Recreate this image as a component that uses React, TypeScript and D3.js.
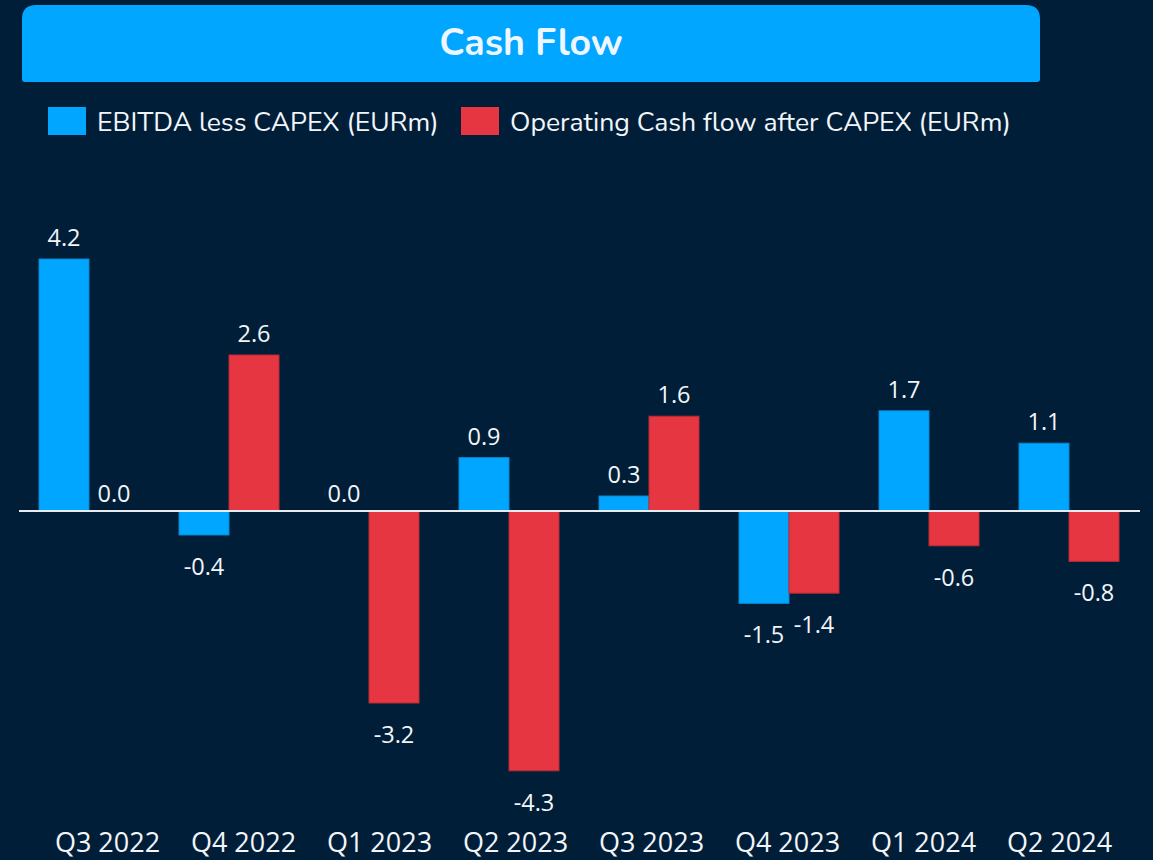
import React, { useEffect, useRef } from 'react';
import * as d3 from 'd3';

const quarters = ['Q3 2022', 'Q4 2022', 'Q1 2023', 'Q2 2023', 'Q3 2023', 'Q4 2023', 'Q1 2024', 'Q2 2024'];
const ebitdaLessCapex = [4.2, -0.4, 0.0, 0.89, 0.25, -1.54, 1.67, 1.13];
const opCashAfterCapex = [0.0, 2.6, -3.2, -4.33, 1.58, -1.37, -0.58, -0.84];
const seriesNames = ['EBITDA less CAPEX (EURm)', 'Operating Cash flow after CAPEX (EURm)'];
const seriesColors = ['#00A6FF', '#E63641'];
const seriesStroke = ['#0B86CC', '#B92A33'];

const W = 1153;
const H = 860;
const BG = '#011E38';
const TXT = '#F2F6FA';

export default function App() {
  const ref = useRef<SVGSVGElement>(null);

  useEffect(() => {
    document.body.style.margin = '0';
    document.body.style.background = BG;

    const svg = d3.select(ref.current);
    svg.selectAll('*').remove();

    const fmt = d3.formatLocale({ decimal: '.', thousands: ',', grouping: [3], currency: ['', ''], minus: '-' }).format('.1f');

    svg.append('rect').attr('width', W).attr('height', H).attr('fill', BG);

    // title banner: big rounded top corners, small bottom ones
    const bx0 = 22, bx1 = 1040, by0 = 5, by1 = 82, rt = 14, rb = 3;
    svg.append('path')
      .attr('d', `M${bx0},${by0 + rt} Q${bx0},${by0} ${bx0 + rt},${by0} L${bx1 - rt},${by0} Q${bx1},${by0} ${bx1},${by0 + rt} L${bx1},${by1 - rb} Q${bx1},${by1} ${bx1 - rb},${by1} L${bx0 + rb},${by1} Q${bx0},${by1} ${bx0},${by1 - rb} Z`)
      .attr('fill', '#00A6FF');
    svg.append('text')
      .attr('x', (bx0 + bx1) / 2)
      .attr('y', 55)
      .attr('text-anchor', 'middle')
      .attr('font-family', 'Nunito, "Noto Sans", sans-serif')
      .attr('font-weight', 700)
      .attr('font-size', 37.5)
      .attr('fill', '#EEF6FF')
      .text('Cash Flow');

    // legend
    const legendX = [48, 461];
    const lg = svg.append('g').selectAll('g').data(seriesNames).enter().append('g')
      .attr('transform', (d, i) => `translate(${legendX[i]},107)`);
    lg.append('rect').attr('width', 38).attr('height', 28).attr('fill', (d, i) => seriesColors[i]);
    lg.append('text')
      .attr('x', 49)
      .attr('y', 24)
      .attr('font-family', 'Nunito, "Noto Sans", sans-serif')
      .attr('font-size', 26.6)
      .attr('fill', TXT)
      .text(d => d);

    // scales
    const x0 = d3.scaleBand().domain(quarters).range([19, 1139]);
    const x1 = d3.scaleBand().domain(['0', '1']).range([20, 120]);
    const y = d3.scaleLinear().domain([-5, 5]).range([811, 211]);
    const xLab = d3.scalePoint().domain(quarters).range([107.5, 1059.5]);

    const rows = quarters.flatMap((q, i) => [
      { q, s: 0, v: ebitdaLessCapex[i] },
      { q, s: 1, v: opCashAfterCapex[i] },
    ]);

    const bars = svg.append('g');
    bars.selectAll('rect').data(rows.filter(d => d.v !== 0)).enter().append('rect')
      .attr('x', d => x0(d.q)! + x1(String(d.s))!)
      .attr('y', d => Math.min(y(d.v), y(0)))
      .attr('width', x1.bandwidth())
      .attr('height', d => Math.abs(y(d.v) - y(0)))
      .attr('fill', d => seriesColors[d.s])
      .attr('stroke', d => seriesStroke[d.s])
      .attr('stroke-width', 1);

    // zero line
    svg.append('line')
      .attr('x1', 19).attr('x2', 1140)
      .attr('y1', y(0)).attr('y2', y(0))
      .attr('stroke', '#E8ECF0')
      .attr('stroke-width', 2);

    // value labels
    svg.append('g').selectAll('text').data(rows).enter().append('text')
      .attr('x', d => x0(d.q)! + x1(String(d.s))! + x1.bandwidth() / 2)
      .attr('y', d => (d.v === 0 ? y(0) - 9 : d.v > 0 ? y(d.v) - 13 : y(d.v) + 40))
      .attr('text-anchor', 'middle')
      .attr('font-family', '"Open Sans", sans-serif')
      .attr('font-size', 23.5)
      .attr('fill', TXT)
      .text(d => fmt(d.v));

    // category labels
    svg.append('g').selectAll('text').data(quarters).enter().append('text')
      .attr('x', d => xLab(d)!)
      .attr('y', 852)
      .attr('text-anchor', 'middle')
      .attr('font-family', '"Open Sans", sans-serif')
      .attr('font-size', 27)
      .attr('fill', TXT)
      .text(d => d);
  }, []);

  return <svg ref={ref} width={W} height={H} style={{ display: 'block' }} />;
}
